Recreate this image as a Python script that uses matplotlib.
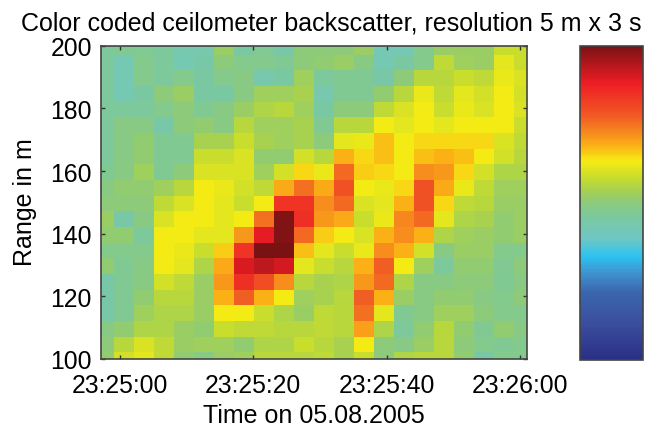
import numpy as np
import matplotlib
matplotlib.use('Agg')
import matplotlib.pyplot as plt
from matplotlib.colors import LinearSegmentedColormap

plt.rcParams['font.family'] = ['Liberation Sans', 'DejaVu Sans']

# backscatter per cell, top row (highest range) first
backscatter = [
    [46, 47, 47, 46, 43, 43, 52, 45, 47, 44, 50, 50, 50, 52, 42, 42, 48, 52, 52, 52, 58, 58],
    [46, 42, 48, 46, 42, 44, 50, 48, 48, 47, 50, 51, 52, 49, 42, 45, 48, 57, 53, 52, 61, 58],
    [46, 42, 48, 46, 48, 45, 48, 49, 43, 45, 53, 46, 47, 47, 44, 50, 56, 56, 58, 57, 62, 60],
    [46, 42, 45, 50, 52, 45, 45, 49, 53, 53, 54, 43, 47, 47, 51, 56, 62, 57, 61, 59, 63, 59],
    [46, 46, 46, 48, 50, 47, 49, 52, 55, 56, 53, 45, 50, 50, 57, 60, 63, 58, 62, 60, 63, 60],
    [46, 49, 49, 44, 50, 51, 49, 56, 53, 53, 54, 47, 56, 56, 63, 61, 63, 61, 63, 63, 63, 58],
    [46, 49, 51, 47, 47, 54, 54, 58, 54, 53, 54, 50, 61, 62, 67, 63, 65, 65, 65, 65, 60, 57],
    [46, 49, 51, 47, 47, 58, 58, 60, 51, 51, 59, 56, 68, 65, 67, 63, 67, 68, 67, 63, 59, 56],
    [47, 49, 53, 47, 50, 60, 60, 60, 53, 59, 65, 62, 76, 66, 65, 63, 72, 71, 65, 59, 55, 55],
    [49, 51, 51, 53, 56, 63, 62, 59, 57, 69, 75, 69, 79, 63, 62, 65, 79, 69, 62, 57, 53, 53],
    [50, 50, 50, 57, 60, 63, 61, 58, 63, 84, 84, 72, 76, 60, 61, 68, 79, 65, 57, 56, 52, 52],
    [52, 44, 49, 60, 63, 63, 61, 63, 75, 99, 85, 71, 69, 58, 62, 73, 76, 61, 55, 54, 51, 52],
    [51, 51, 46, 63, 63, 61, 61, 71, 89, 99, 76, 66, 63, 60, 68, 72, 68, 55, 53, 52, 51, 52],
    [48, 48, 48, 63, 62, 58, 66, 84, 100, 100, 67, 61, 58, 62, 72, 68, 59, 49, 52, 52, 48, 48],
    [51, 47, 49, 63, 61, 55, 69, 90, 93, 91, 61, 58, 56, 68, 77, 63, 53, 46, 51, 51, 47, 50],
    [44, 47, 49, 59, 57, 52, 71, 85, 80, 72, 56, 54, 55, 71, 76, 55, 49, 49, 50, 50, 47, 49],
    [44, 47, 51, 56, 56, 52, 68, 77, 68, 63, 53, 54, 56, 77, 68, 52, 49, 51, 51, 49, 48, 50],
    [44, 47, 53, 55, 55, 52, 63, 63, 58, 55, 52, 57, 56, 75, 61, 47, 49, 53, 53, 50, 48, 48],
    [49, 51, 55, 55, 52, 51, 58, 57, 57, 56, 56, 57, 56, 70, 55, 46, 51, 56, 51, 47, 51, 49],
    [50, 56, 60, 57, 52, 53, 53, 51, 55, 55, 58, 56, 54, 63, 50, 49, 52, 56, 50, 48, 47, 48],
    [51, 59, 61, 57, 51, 49, 52, 53, 56, 56, 56, 57, 54, 58, 50, 55, 56, 56, 51, 45, 48, 48],
]
x_ticks = [0, 20, 40, 60]
x_labels = ['23:25:00', '23:25:20', '23:25:40', '23:26:00']
y_ticks = [100, 120, 140, 160, 180, 200]

cmap_stops = [
    (0.00, '#2b2f86'), (0.12, '#3b4f9e'), (0.215, '#3a66ad'), (0.278, '#3f94d0'),
    (0.33, '#2dc3f0'), (0.385, '#6fc7c4'), (0.45, '#7ac8a2'), (0.50, '#8ccb7c'),
    (0.54, '#a6d150'), (0.575, '#c4db30'), (0.634, '#f7ec13'), (0.68, '#fbb316'),
    (0.777, '#f15a24'), (0.883, '#ed1c24'), (1.00, '#7a1214'),
]
cmap = LinearSegmentedColormap.from_list('ceilo', cmap_stops, N=256)

data = np.array(backscatter)[::-1]
# cells are 3 s x 5 m, the grid is offset from the axis limits so the outer ones get cut
x_edges = -3.9 + 3 * np.arange(data.shape[1] + 1)
y_edges = 97.1 + 5 * np.arange(data.shape[0] + 1)

W, H = 648, 427
fig = plt.figure(figsize=(W / 100, H / 100), dpi=100)
ax = fig.add_axes([101 / W, (H - 360) / H, 425.5 / W, 313.3 / H])
cax = fig.add_axes([580 / W, (H - 361) / H, 63 / W, 314.3 / H])

mesh = ax.pcolormesh(x_edges, y_edges, data, cmap=cmap, vmin=0, vmax=100, antialiased=False)
ax.set_xlim(-2.85, 61)
ax.set_ylim(100, 200)
ax.set_xticks(x_ticks)
ax.set_xticklabels(x_labels)
ax.set_yticks(y_ticks)
ax.tick_params(direction='in', top=True, right=True, length=3, width=1, labelsize=17.8,
               color='#333333')
ax.tick_params(axis='x', pad=10)
ax.tick_params(axis='y', pad=6.5)
ax.set_xlabel('Time on 05.08.2005', fontsize=18, labelpad=4.5)
ax.set_ylabel('Range in m', fontsize=18)
ax.yaxis.set_label_coords(-0.15, 0.505)
fig.text(331 / W, (H - 24) / H, 'Color coded ceilometer backscatter, resolution 5 m x 3 s',
         fontsize=18, ha='center', va='center')

cb = fig.colorbar(mesh, cax=cax)
cb.set_ticks([])
cb.outline.set_edgecolor('#444444')
cb.outline.set_linewidth(1.2)
for s in ax.spines.values():
    s.set_edgecolor('#444444')
    s.set_linewidth(1.2)

fig.savefig('out.png', dpi=100)
